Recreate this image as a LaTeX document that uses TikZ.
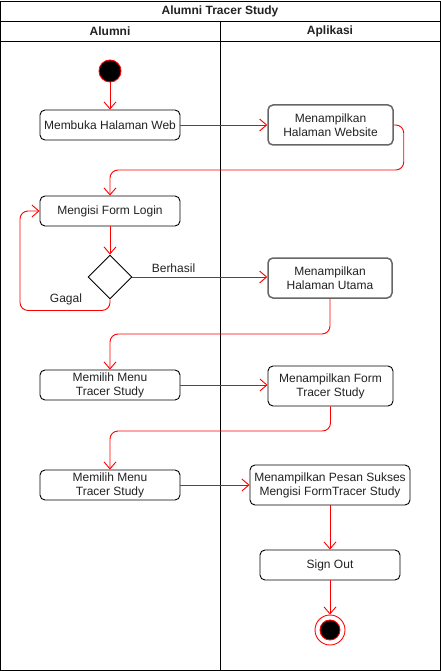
\documentclass[tikz,border=0pt]{standalone}
\usepackage{fontspec}
\setmainfont{Liberation Sans}
\usetikzlibrary{arrows.meta,shapes.geometric}
\definecolor{txt}{HTML}{222222}
\begin{document}
\begin{tikzpicture}[x=1pt,y=-1pt,
  font=\fontsize{12}{14}\selectfont,
  act/.style={draw=black,line width=0.9pt,rounded corners=5pt,fill=white,text=txt,align=center,inner sep=0pt},
  actg/.style={act,draw=black!60,line width=1.5pt},
  flow/.style={draw=red,line width=0.9pt,rounded corners=8pt,-{Straight Barb[length=7pt,width=12pt]}},
  lane/.style={draw=black,line width=0.9pt},
  lbl/.style={text=txt,inner sep=0pt}]
\useasboundingbox (0,0) rectangle (441,671);
% swimlanes
\draw[lane] (0.5,1) rectangle (440,670);
\draw[lane] (0.5,21) -- (440,21);
\draw[lane] (0.5,41) -- (440,41);
\draw[lane] (220,21) -- (220,670);
\node[lbl,font=\fontsize{12}{14}\selectfont\bfseries] (title) at (220,11.5) {Alumni Tracer Study};
\node[lbl,font=\fontsize{12}{14}\selectfont\bfseries] (la) at (110,31.5) {Alumni};
\node[lbl,font=\fontsize{12}{14}\selectfont\bfseries] (lb) at (330,31.5) {Aplikasi};
% nodes
\node[circle,fill=black,draw=red,line width=0.9pt,minimum size=22pt,inner sep=0pt] (start) at (110,71) {};
\node[act,minimum width=140pt,minimum height=30pt] (a1) at (110,125) {Membuka Halaman Web};
\node[actg,minimum width=125pt,minimum height=40pt] (b1) at (330.5,125) {Menampilkan\\Halaman Website};
\node[act,minimum width=140pt,minimum height=30pt] (a2) at (110,211) {Mengisi Form Login};
\node[diamond,draw=black,line width=0.9pt,fill=white,minimum width=44pt,minimum height=44pt,inner sep=0pt] (d) at (110,277) {};
\node[actg,minimum width=124pt,minimum height=40pt] (b2) at (330,278) {Menampilkan\\Halaman Utama};
\node[act,minimum width=140pt,minimum height=30pt] (a3) at (110,385) {Memilih Menu\\Tracer Study};
\node[act,minimum width=125pt,minimum height=40pt] (b3) at (330.5,386) {Menampilkan Form\\Tracer Study};
\node[act,minimum width=140pt,minimum height=30pt] (a4) at (110,485) {Memilih Menu\\Tracer Study};
\node[act,minimum width=160pt,minimum height=40pt] (b4) at (330,485) {Menampilkan Pesan Sukses\\Mengisi FormTracer Study};
\node[act,minimum width=140pt,minimum height=30pt] (b5) at (330,565) {Sign Out};
\node[circle,draw=red,fill=white,line width=0.9pt,minimum size=30pt,inner sep=0pt] (end) at (330,630) {};
\node[circle,draw=red,fill=black,line width=0.9pt,minimum size=20pt,inner sep=0pt] (endin) at (end.center) {};
% connectors
\draw[flow] (start) -- (a1);
\draw[flow] (a1) -- (b1);
\draw[flow] (b1.east) -- ++(10,0) |- (170,170) -| (a2.north);
\draw[flow] (a2) -- (d);
\draw[flow] (d.south) -- ++(0,11) -| (20,240) |- (a2.west);
\draw[flow] (d.east) -- (b2.west |- d.east);
\draw[flow] (b2.south) |- (200,334) -| (a3.north);
\draw[flow] (a3) -- (b3.west |- a3.east);
\draw[flow] (b3.south) |- (200,431) -| (a4.north);
\draw[flow] (a4) -- (b4.west |- a4.east);
\draw[flow] (b4) -- (b5);
\draw[flow] (b5) -- (end);
% labels
\node[lbl] (gagal) at (66,299) {Gagal};
\node[lbl] (berhasil) at (173.5,268) {Berhasil};
\end{tikzpicture}
\end{document}
